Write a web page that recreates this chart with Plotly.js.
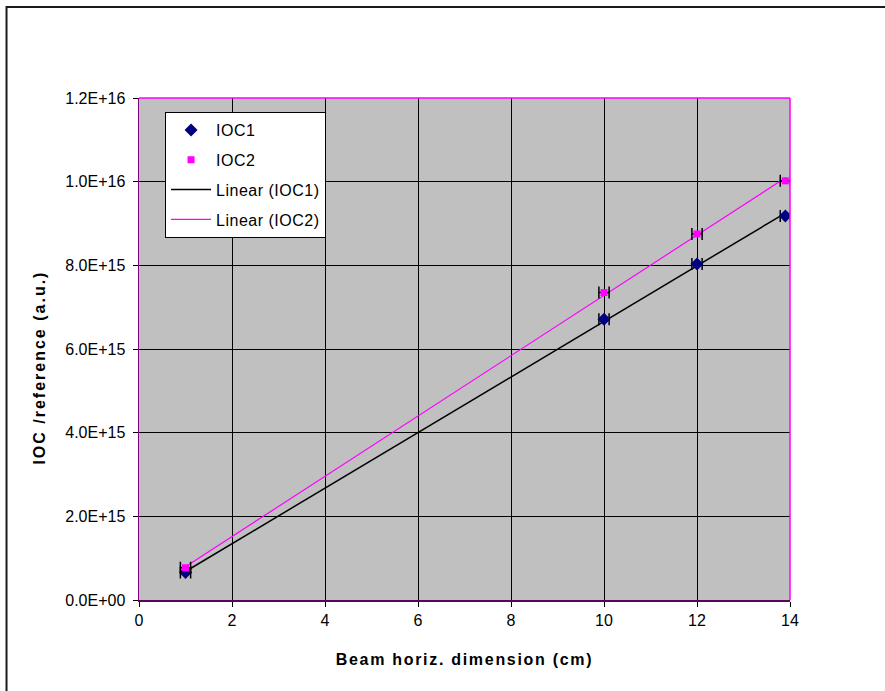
<!DOCTYPE html>
<html>
<head>
<meta charset="utf-8">
<script src="https://cdn.plot.ly/plotly-3.0.1.min.js"></script>
<style>
  html, body { margin: 0; padding: 0; background: #ffffff; }
  #chart { width: 885px; height: 691px; }
  /* spread the titles and legend text a little, like the office-chart renderer */
  #chart .xtitle { letter-spacing: 1.7px; }
  .annotation-text { letter-spacing: 2px; }
  .legendtext { letter-spacing: 0.5px; }
</style>
</head>
<body>
<div id="chart"></div>
<script>
// Beam horizontal dimension (cm)
const beamSize = [1, 10, 12, 13.9];
// IOC signal normalised to reference (a.u.)
const ioc1 = [6.6e14, 6.71e15, 8.03e15, 9.18e15];
const ioc2 = [7.7e14, 7.35e15, 8.75e15, 1.002e16];
// horizontal uncertainty on the beam size (cm)
const beamErr = [0.11, 0.11, 0.11, 0.11];

const yTickVals = [0, 2e15, 4e15, 6e15, 8e15, 1e16, 1.2e16];
const yTickText = ['0.0E+00', '2.0E+15', '4.0E+15', '6.0E+15', '8.0E+15', '1.0E+16', '1.2E+16'];
const xTickVals = [0, 2, 4, 6, 8, 10, 12, 14];

// least-squares straight line through a series, evaluated at the data range ends
function linearFit(xs, ys) {
  const n = xs.length;
  let sx = 0, sy = 0, sxx = 0, sxy = 0;
  for (let i = 0; i < n; i++) {
    sx += xs[i]; sy += ys[i]; sxx += xs[i] * xs[i]; sxy += xs[i] * ys[i];
  }
  const slope = (n * sxy - sx * sy) / (n * sxx - sx * sx);
  const icpt = (sy - slope * sx) / n;
  const x0 = Math.min(...xs), x1 = Math.max(...xs);
  return { x: [x0, x1], y: [icpt + slope * x0, icpt + slope * x1] };
}

const fit1 = linearFit(beamSize, ioc1);
const fit2 = linearFit(beamSize, ioc2);

const errStyle = (arr) => ({
  type: 'data', array: arr, visible: true,
  color: '#000000', thickness: 1.5, width: 6
});

const FONT = 'Liberation Sans, Arial, sans-serif';

const traces = [
  {
    x: fit1.x, y: fit1.y, mode: 'lines', name: 'Linear (IOC1)',
    line: { color: '#000000', width: 1.5 }, legendgroup: 'c', legendrank: 3
  },
  {
    x: fit2.x, y: fit2.y, mode: 'lines', name: 'Linear (IOC2)',
    line: { color: '#ff00ff', width: 1.2 }, legendgroup: 'd', legendrank: 4
  },
  {
    x: beamSize, y: ioc1, mode: 'markers', name: 'IOC1',
    marker: { symbol: 'diamond', size: 10, color: '#000080' },
    error_x: errStyle(beamErr), legendgroup: 'a', legendrank: 1
  },
  {
    x: beamSize, y: ioc2, mode: 'markers', name: 'IOC2',
    marker: { symbol: 'square', size: 7, color: '#ff00ff' },
    error_x: errStyle(beamErr), legendgroup: 'b', legendrank: 2
  }
];

const titleFont = { family: FONT, size: 16, color: '#000000', weight: 'bold' };

const layout = {
  width: 885, height: 691,
  margin: { l: 139, r: 95, t: 98, b: 91 },
  paper_bgcolor: '#ffffff',
  plot_bgcolor: '#c0c0c0',
  font: { family: FONT, size: 16, color: '#000000' },
  showlegend: true,
  legend: {
    x: 0.04, y: 0.972, xanchor: 'left', yanchor: 'top',
    bgcolor: '#ffffff', bordercolor: '#000000', borderwidth: 1,
    font: { family: FONT, size: 16, color: '#000000' },
    traceorder: 'grouped', tracegroupgap: 6, itemwidth: 40
  },
  xaxis: {
    range: [0, 14], tickvals: xTickVals, ticktext: xTickVals.map(String),
    showgrid: true, gridcolor: '#000000', gridwidth: 1,
    zeroline: false, showline: true, linecolor: '#600060', linewidth: 1.5,
    ticks: 'outside', ticklen: 5, tickcolor: '#000000',
    tickfont: { family: FONT, size: 16, color: '#000000' },
    title: { text: 'Beam horiz. dimension (cm)', standoff: 26, font: titleFont }
  },
  yaxis: {
    range: [0, 1.2e16], tickvals: yTickVals, ticktext: yTickText,
    showgrid: true, gridcolor: '#000000', gridwidth: 1,
    zeroline: false, showline: true, linecolor: '#800080', linewidth: 1.5,
    ticks: 'outside', ticklen: 5, tickcolor: '#000000', ticklabelstandoff: 4,
    tickfont: { family: FONT, size: 16, color: '#000000' }
  },
  annotations: [
    // y-axis title, placed a little below the plot's vertical centre
    { text: '<b>IOC /reference (a.u.)</b>', xref: 'paper', yref: 'paper',
      x: -0.152, y: 0.463, xanchor: 'center', yanchor: 'middle',
      textangle: -90, showarrow: false, font: titleFont }
  ],
  shapes: [
    // plot frame: top and right edges
    { type: 'line', xref: 'paper', yref: 'paper', x0: 0, x1: 1, y0: 1, y1: 1,
      line: { color: '#ff00ff', width: 1.5 } },
    { type: 'line', xref: 'paper', yref: 'paper', x0: 1, x1: 1, y0: 0, y1: 1,
      line: { color: '#ff00ff', width: 1.5 } },
    // outer chart border
    { type: 'rect', xref: 'paper', yref: 'paper', x0: -0.2035, x1: 1.5, y0: -0.5, y1: 1.1815,
      line: { color: '#1a1a1a', width: 2 }, layer: 'below' }
  ]
};

Plotly.newPlot('chart', traces, layout, { staticPlot: true, displayModeBar: false });
</script>
</body>
</html>
